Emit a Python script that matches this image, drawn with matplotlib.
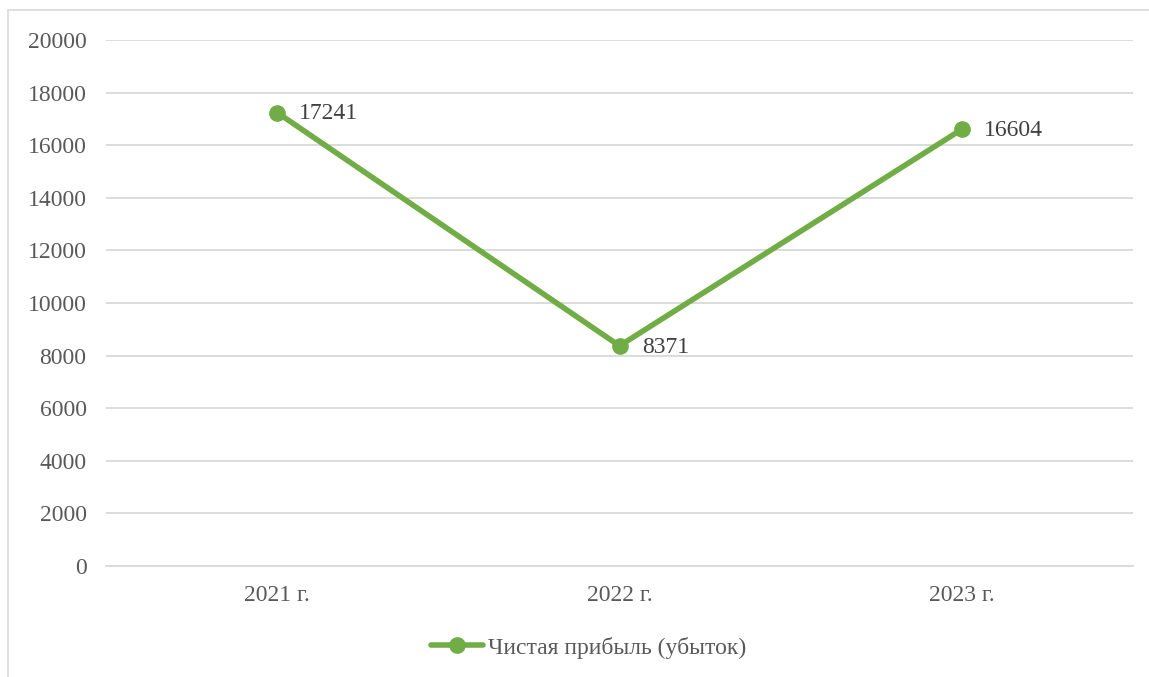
import matplotlib.pyplot as plt
from matplotlib.patches import Rectangle

years = ['2021 г.', '2022 г.', '2023 г.']
profit = [17241, 8371, 16604]
series_name = 'Чистая прибыль (убыток)'
y_ticks = [0, 2000, 4000, 6000, 8000, 10000, 12000, 14000, 16000, 18000, 20000]

plt.rcParams['font.family'] = ['Liberation Serif', 'DejaVu Serif']
fs = 17

fig = plt.figure(figsize=(11.49, 6.77), dpi=100)
# рамка диаграммы (обрезана справа и снизу)
fig.patches.append(Rectangle((8 / 1149, -0.1), 1.2, 1 - 10 / 677 + 0.1,
                             transform=fig.transFigure, fill=False,
                             edgecolor='#d9d9d9', linewidth=1.2))

ax = fig.add_axes([106 / 1149, 111 / 677, 1027 / 1149, 526 / 677])
x = list(range(len(years)))
ax.plot(x, profit, color='#70ad47', linewidth=4, marker='o', markersize=11,
        label=series_name, solid_capstyle='round')

for xi, v in zip(x, profit):
    ax.annotate(str(v), (xi, v), xytext=(16, -1), textcoords='offset points',
                ha='left', va='center', fontsize=fs, color='#404040')

ax.set_xlim(-0.5, 2.5)
ax.set_ylim(0, 20000)
ax.set_yticks(y_ticks)
ax.set_yticklabels([str(t) for t in y_ticks])
ax.set_xticks(x)
ax.set_xticklabels(years)
ax.grid(axis='y', color='#d9d9d9', linewidth=1.3)
ax.set_axisbelow(True)
for s in ['top', 'right', 'left']:
    ax.spines[s].set_visible(False)
ax.spines['bottom'].set_color('#d9d9d9')
ax.spines['bottom'].set_linewidth(1.3)
ax.tick_params(axis='both', length=0, labelsize=fs, labelcolor='#595959')
ax.tick_params(axis='y', pad=14)
ax.tick_params(axis='x', pad=14)

ax.legend(loc='center', bbox_to_anchor=(0.47, -0.155), frameon=False,
          fontsize=fs, labelcolor='#595959', handlelength=2.2,
          handletextpad=0.2)

fig.savefig('out.png', dpi=100)
